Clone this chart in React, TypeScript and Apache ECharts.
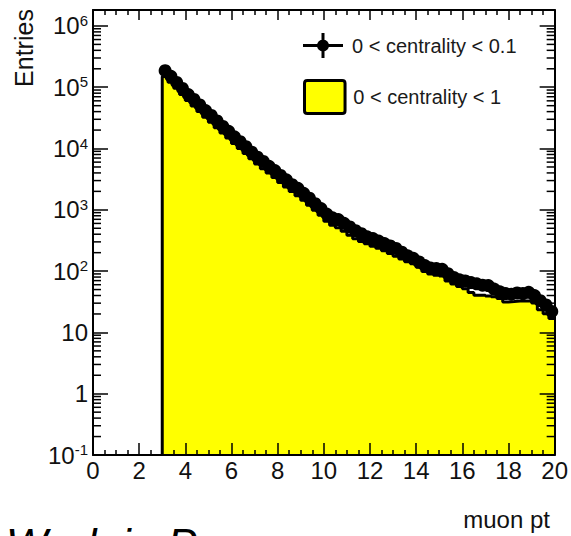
import React, { useEffect, useRef } from 'react';
import * as echarts from 'echarts';

// Histogram binning (GeV): 68 bins of 0.25 from 3 to 20
const BIN_START = 3;
const BIN_WIDTH = 0.25;

const seriesNames = ['0 < centrality < 0.1', '0 < centrality < 1'];

// 0 < centrality < 0.1 (black markers), one value per bin
const centralMarkers = [
  186000, 151000, 120000, 95500, 75900, 63100, 51300, 41700, 34700, 28200,
  22900, 19100, 15500, 12900, 10700, 8710, 7240, 6170, 5130, 4370,
  3630, 3090, 2570, 2240, 1860, 1550, 1260, 1050, 851, 741,
  692, 603, 525, 457, 407, 363, 339, 309, 282, 257,
  234, 204, 178, 162, 141, 123, 112, 110, 107, 91,
  79, 72, 69, 65, 62, 59, 58, 51, 46, 43,
  42, 44, 43, 45, 40, 33, 28, 22,
];

// 0 < centrality < 1 (yellow filled histogram), one value per bin
const minBiasHist = [
  150000, 121000, 96000, 76000, 60500, 49300, 40300, 32500, 26900, 21800,
  17900, 14800, 12100, 9970, 8290, 6830, 5600, 4700, 3980, 3360,
  2800, 2350, 1990, 1700, 1430, 1190, 985, 818, 650, 560,
  510, 448, 386, 336, 305, 280, 255, 235, 215, 193,
  175, 157, 142, 132, 116, 98.6, 89.6, 86, 83, 69,
  61.6, 56, 51.5, 44.8, 40.3, 40.3, 39.2, 38, 35.8, 31.4,
  31.9, 32.5, 32.5, 32.5, 30.2, 23.5, 20.2, 16.8,
];

// y axis (log) major ticks and labels: value, base, exponent
const yTickValues = [0.1, 1, 10, 100, 1000, 10000, 100000, 1000000];
const yTickBases = ['10', '1', '10', '10', '10', '10', '10', '10'];
const yTickExponents = ['-1', '', '', '2', '3', '4', '5', '6'];
const minorMultipliers = [2, 3, 4, 5, 6, 7, 8, 9];

const X_MIN = 0;
const X_MAX = 20;
const Y_MIN = 0.1;
const Y_MAX = 1.82e6;

const FONT = '"Liberation Sans", Arial, Helvetica, sans-serif';

export default function App() {
  const ref = useRef<HTMLDivElement>(null);

  useEffect(() => {
    if (!ref.current) return;
    const chart = echarts.init(ref.current, undefined, { renderer: 'svg' });

    const markerData = centralMarkers.map((v, i) => [BIN_START + (i + 0.5) * BIN_WIDTH, v]);
    const histData: number[][] = [[BIN_START, Y_MIN]];
    minBiasHist.forEach((v, i) => histData.push([BIN_START + i * BIN_WIDTH, v]));
    histData.push([BIN_START + minBiasHist.length * BIN_WIDTH, minBiasHist[minBiasHist.length - 1]]);

    const minorTicks: number[][] = [];
    yTickValues.forEach((d) => {
      minorMultipliers.forEach((m) => {
        const v = d * m;
        if (v < Y_MAX) minorTicks.push([X_MIN, v]);
      });
    });

    const yLabelFormatter = (val: number) => {
      for (let i = 0; i < yTickValues.length; i++) {
        if (Math.abs(val - yTickValues[i]) / yTickValues[i] < 1e-4) {
          return yTickExponents[i]
            ? `{b|${yTickBases[i]}}{s|${yTickExponents[i]}}`
            : `{b|${yTickBases[i]}}`;
        }
      }
      return '';
    };

    const axisLineStyle = { color: '#000', width: 2 };
    const tickLine = { color: '#000', width: 1.5 };

    chart.setOption({
      animation: false,
      backgroundColor: '#fff',
      textStyle: { fontFamily: FONT },
      grid: { left: 93, right: 13, top: 10, bottom: 81, show: false },
      legend: [
        {
          data: [
            {
              name: seriesNames[0],
              icon:
                'path://M0,11L40,11L40,14L0,14Z M18.5,0L21.5,0L21.5,25L18.5,25Z M14,12.5A6,6 0 1,1 26,12.5A6,6 0 1,1 14,12.5Z',
            },
          ],
          left: 303,
          top: 33,
          padding: 0,
          itemWidth: 40,
          itemHeight: 25,
          itemStyle: { color: '#000', borderWidth: 0 },
          textStyle: { fontSize: 20, color: '#1a1a1a', fontFamily: FONT, padding: [0, 0, 0, 4] },
          selectedMode: false,
        },
        {
          data: [
            {
              name: seriesNames[1],
              icon: 'path://M3,0L40,0Q43,0 43,3L43,32Q43,35 40,35L3,35Q0,35 0,32L0,3Q0,0 3,0Z',
            },
          ],
          left: 303,
          top: 79,
          padding: 0,
          itemWidth: 41,
          itemHeight: 33,
          itemStyle: { color: '#ffff00', borderColor: '#000', borderWidth: 3 },
          textStyle: { fontSize: 20, color: '#1a1a1a', fontFamily: FONT, padding: [0, 0, 0, 3] },
          selectedMode: false,
        },
      ],
      xAxis: [
        {
          type: 'value',
          min: X_MIN,
          max: X_MAX,
          interval: 2,
          position: 'bottom',
          z: 5,
          axisLine: { show: true, lineStyle: axisLineStyle },
          axisTick: { show: true, inside: true, length: 12, lineStyle: tickLine },
          minorTick: { show: true, splitNumber: 4, length: 5, lineStyle: tickLine },
          splitLine: { show: false },
          axisLabel: { fontSize: 24, color: '#111', margin: 3, fontFamily: FONT },
        },
        {
          type: 'value',
          min: X_MIN,
          max: X_MAX,
          interval: 2,
          position: 'top',
          z: 5,
          axisLine: { show: true, onZero: false, lineStyle: axisLineStyle },
          axisTick: { show: true, inside: true, length: 10, lineStyle: tickLine },
          minorTick: { show: true, splitNumber: 4, length: 5, lineStyle: tickLine },
          splitLine: { show: false },
          axisLabel: { show: false },
        },
      ],
      yAxis: [
        {
          type: 'log',
          logBase: 10,
          min: Y_MIN,
          max: Y_MAX,
          position: 'left',
          z: 5,
          axisLine: { show: true, onZero: false, lineStyle: axisLineStyle },
          axisTick: { show: true, inside: true, length: 15, lineStyle: tickLine },
          splitLine: { show: false },
          axisLabel: {
            margin: 5,
            color: '#111',
            formatter: yLabelFormatter,
            rich: {
              b: { fontSize: 24, lineHeight: 26, fontFamily: FONT, color: '#111' },
              s: { fontSize: 15, lineHeight: 12, fontFamily: FONT, color: '#111', verticalAlign: 'top' },
            },
          },
        },
        {
          type: 'log',
          logBase: 10,
          min: Y_MIN,
          max: Y_MAX,
          position: 'right',
          z: 5,
          axisLine: { show: true, onZero: false, lineStyle: axisLineStyle },
          axisTick: { show: true, inside: true, length: 15, lineStyle: tickLine },
          splitLine: { show: false },
          axisLabel: { show: false },
        },
      ],
      series: [
        {
          name: seriesNames[1],
          type: 'line',
          xAxisIndex: 0,
          yAxisIndex: 0,
          step: 'end',
          showSymbol: false,
          symbol: 'none',
          data: histData,
          itemStyle: { color: '#ffff00' },
          lineStyle: { color: '#000', width: 3 },
          areaStyle: { color: '#ffff00', opacity: 1, origin: 'start' },
          z: 2,
        },
        {
          name: seriesNames[0],
          type: 'scatter',
          xAxisIndex: 0,
          yAxisIndex: 0,
          symbol: 'circle',
          symbolSize: 13,
          data: markerData,
          itemStyle: { color: '#000', opacity: 1 },
          z: 3,
        },
        {
          name: 'minor ticks',
          type: 'custom',
          xAxisIndex: 0,
          yAxisIndex: 0,
          silent: true,
          z: 6,
          clip: false,
          data: minorTicks,
          renderItem: (params: any, api: any) => {
            const v = api.value(1);
            const pl = api.coord([X_MIN, v]);
            const pr = api.coord([X_MAX, v]);
            return {
              type: 'group',
              children: [
                { type: 'line', shape: { x1: pl[0], y1: pl[1], x2: pl[0] + 8, y2: pl[1] }, style: { stroke: '#000', lineWidth: 1.5 } },
                { type: 'line', shape: { x1: pr[0] - 8, y1: pr[1], x2: pr[0], y2: pr[1] }, style: { stroke: '#000', lineWidth: 1.5 } },
              ],
            };
          },
        },
      ],
      graphic: [
        {
          type: 'text',
          x: 24,
          y: 48,
          rotation: Math.PI / 2,
          style: { text: 'Entries', fontSize: 25, fontFamily: FONT, fill: '#111', align: 'center', verticalAlign: 'middle' },
        },
        {
          type: 'text',
          x: 550,
          y: 519,
          style: { text: 'muon pt', fontSize: 24, fontFamily: FONT, fill: '#111', align: 'right', verticalAlign: 'middle' },
        },
        {
          type: 'text',
          x: 6,
          y: 544,
          style: { text: 'Work in Progress', fontSize: 44, fontStyle: 'italic', fontFamily: FONT, fill: '#000', align: 'left', verticalAlign: 'middle' },
        },
      ],
    });

    return () => chart.dispose();
  }, []);

  return <div ref={ref} style={{ position: 'fixed', left: 0, top: 0, width: 571, height: 536 }} />;
}
